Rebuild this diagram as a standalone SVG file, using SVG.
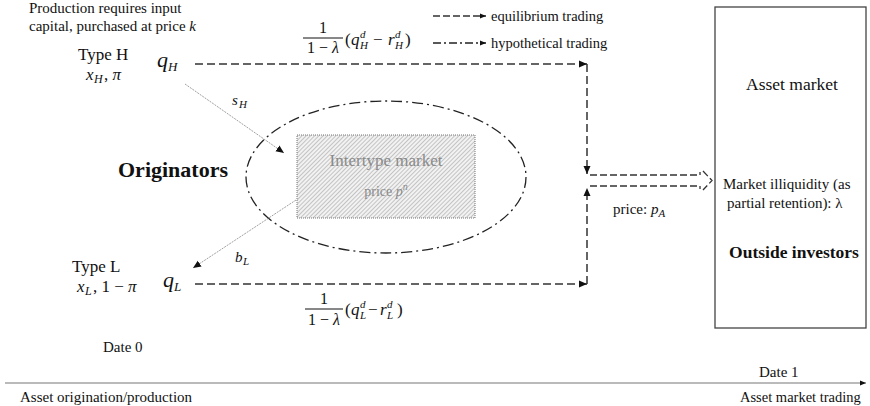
<svg xmlns="http://www.w3.org/2000/svg" width="870" height="406" viewBox="0 0 870 406" font-family="'Liberation Serif', 'Times New Roman', serif">
<style>
  text { font-family: "Liberation Serif", "Times New Roman", serif; fill: #111; }
  .t15 { font-size: 15px; }
  .t16 { font-size: 16px; }
  .t17 { font-size: 17px; }
  .m { font-style: italic; }
  .sub { font-size: 11px; font-style: italic; }
  .eq { fill: none; stroke: #333; stroke-width: 1.5; stroke-dasharray: 8 4; }
  .hyp { fill: none; stroke: #222; stroke-width: 1.3; stroke-dasharray: 11 4 2 4; }
  .diag { fill: none; stroke: #888; stroke-width: 0.8; stroke-dasharray: 2 1; }
</style>
<defs>
  <marker id="ah" markerWidth="9" markerHeight="8" refX="8" refY="4" orient="auto" markerUnits="userSpaceOnUse">
    <path d="M0,0.5 L8,4 L0,7.5 z" fill="#111"/>
  </marker>
  <marker id="ahs" markerWidth="7" markerHeight="6" refX="6" refY="3" orient="auto" markerUnits="userSpaceOnUse">
    <path d="M0,0.5 L6,3 L0,5.5 z" fill="#111"/>
  </marker>
  <pattern id="hatch" width="3" height="3" patternUnits="userSpaceOnUse" patternTransform="rotate(45)">
    <rect width="3" height="3" fill="#f2f2f2"/>
    <line x1="0" y1="0" x2="0" y2="3" stroke="#959595" stroke-width="1"/>
  </pattern>
</defs>

<g id="note">
  <text class="t15" x="29" y="13">Production requires input</text>
  <text class="t15" x="29" y="31">capital, purchased at price <tspan class="m">k</tspan></text>
</g>

<g id="legend">
  <line x1="433" y1="16" x2="486" y2="16" class="eq" style="stroke-dasharray:7 3" marker-end="url(#ahs)"/>
  <text x="491" y="21" style="font-size:14.5px">equilibrium trading</text>
  <line x1="433" y1="43" x2="486" y2="43" class="hyp" style="stroke-dasharray:8 3 2 3" marker-end="url(#ahs)"/>
  <text x="491" y="48" style="font-size:14.5px">hypothetical trading</text>
</g>

<g id="typeH">
  <text class="t17" x="78" y="60">Type H</text>
  <text class="t17 m" x="86" y="80">x</text>
  <text class="sub" style="font-size:12px" x="94" y="83">H</text>
  <text class="t17" x="104" y="80">, <tspan class="m">π</tspan></text>
  <text class="m" style="font-size:22px" x="157" y="67">q</text>
  <text class="sub" style="font-size:13px" x="168" y="71">H</text>
</g>

<g id="typeL">
  <text class="t17" x="72" y="272">Type L</text>
  <text class="t17 m" x="77" y="292">x</text>
  <text class="sub" style="font-size:12px" x="85" y="295">L</text>
  <text class="t17" x="93" y="292">, 1 − <tspan class="m">π</tspan></text>
  <text class="m" style="font-size:22px" x="163" y="287">q</text>
  <text class="sub" style="font-size:13px" x="174" y="291">L</text>
</g>

<g id="originators">
  <text x="118" y="177" style="font-size:22px;font-weight:bold">Originators</text>
</g>

<g id="intertype">
  <ellipse cx="386" cy="177" rx="140" ry="76" class="hyp"/>
  <rect x="297" y="135" width="178" height="83" fill="url(#hatch)" stroke="#777" stroke-width="1" stroke-dasharray="1 1"/>
  <text x="386" y="166" text-anchor="middle" style="font-size:17px;fill:#8a8a8a">Intertype market</text>
  <text x="386" y="196" text-anchor="middle" style="font-size:14px;fill:#8a8a8a">price <tspan class="m" style="fill:#8a8a8a">p</tspan><tspan style="font-size:10px;fill:#8a8a8a" dy="-6" class="m">n</tspan></text>
</g>

<g id="asset-market">
  <rect x="715" y="7" width="151" height="321" fill="none" stroke="#444" stroke-width="1.3"/>
  <text x="792" y="90" text-anchor="middle" style="font-size:17.5px">Asset market</text>
  <text class="t15" x="723" y="189">Market illiquidity (as</text>
  <text class="t15" x="727" y="208">partial retention): λ</text>
  <text x="794" y="258" text-anchor="middle" style="font-size:17.5px;font-weight:bold">Outside investors</text>
</g>

<g id="connectors">
  <line x1="195" y1="64" x2="587" y2="64" class="eq" marker-end="url(#ah)"/>
  <line x1="587" y1="64" x2="587" y2="174" class="eq" marker-end="url(#ah)"/>
  <line x1="195" y1="284" x2="587" y2="284" class="eq" marker-end="url(#ah)"/>
  <line x1="587" y1="284" x2="587" y2="188" class="eq" marker-end="url(#ah)"/>
  <path d="M590,175 H700 V172 M590,186 H700 V189 M703,171 L712,180.5 L703,190" class="eq" style="stroke-width:1.3;stroke-dasharray:7 3"/>
  <line x1="185" y1="84" x2="284" y2="153" class="diag" marker-end="url(#ah)"/>
  <line x1="296" y1="200" x2="193" y2="268" class="diag" marker-end="url(#ah)"/>
</g>

<g id="labels">
  <text class="m t15" x="232" y="105">s</text>
  <text class="sub" x="239" y="108">H</text>
  <text class="m t15" x="235" y="262">b</text>
  <text class="sub" x="243" y="265">L</text>

  <text class="t16" x="323" y="33" text-anchor="middle">1</text>
  <line x1="303" y1="38" x2="343" y2="38" stroke="#111" stroke-width="1"/>
  <text class="t16" x="323" y="53" text-anchor="middle">1 − <tspan class="m">λ</tspan></text>
  <text style="font-size:17px" x="345" y="45">(</text>
  <text style="font-size:17px" class="m" x="351" y="45">q</text>
  <text class="sub" x="360" y="38">d</text>
  <text class="sub" x="360" y="49">H</text>
  <text style="font-size:17px" x="373" y="45">−</text>
  <text style="font-size:17px" class="m" x="388" y="45">r</text>
  <text class="sub" x="395" y="38">d</text>
  <text class="sub" x="395" y="49">H</text>
  <text style="font-size:17px" x="405" y="45">)</text>

  <text class="t16" x="324" y="304" text-anchor="middle">1</text>
  <line x1="305" y1="309" x2="343" y2="309" stroke="#111" stroke-width="1"/>
  <text class="t16" x="324" y="325" text-anchor="middle">1 − <tspan class="m">λ</tspan></text>
  <text style="font-size:17px" x="345" y="315">(</text>
  <text style="font-size:17px" class="m" x="351" y="315">q</text>
  <text class="sub" x="360" y="308">d</text>
  <text class="sub" x="360" y="319">L</text>
  <text style="font-size:17px" x="368" y="315">−</text>
  <text style="font-size:17px" class="m" x="380" y="315">r</text>
  <text class="sub" x="387" y="308">d</text>
  <text class="sub" x="387" y="319">L</text>
  <text style="font-size:17px" x="397" y="315">)</text>

  <text class="t15" x="613" y="214">price: <tspan class="m">p</tspan><tspan class="sub" dy="3">A</tspan></text>
</g>

<g id="timeline">
  <text class="t15" x="103" y="352">Date 0</text>
  <text class="t15" x="759" y="377">Date 1</text>
  <line x1="5" y1="383" x2="866" y2="383" stroke="#777" stroke-width="1.2" marker-end="url(#ahs)"/>
  <text class="t15" x="20" y="402">Asset origination/production</text>
  <text x="740" y="402" style="font-size:14.5px">Asset market trading</text>
</g>
</svg>
